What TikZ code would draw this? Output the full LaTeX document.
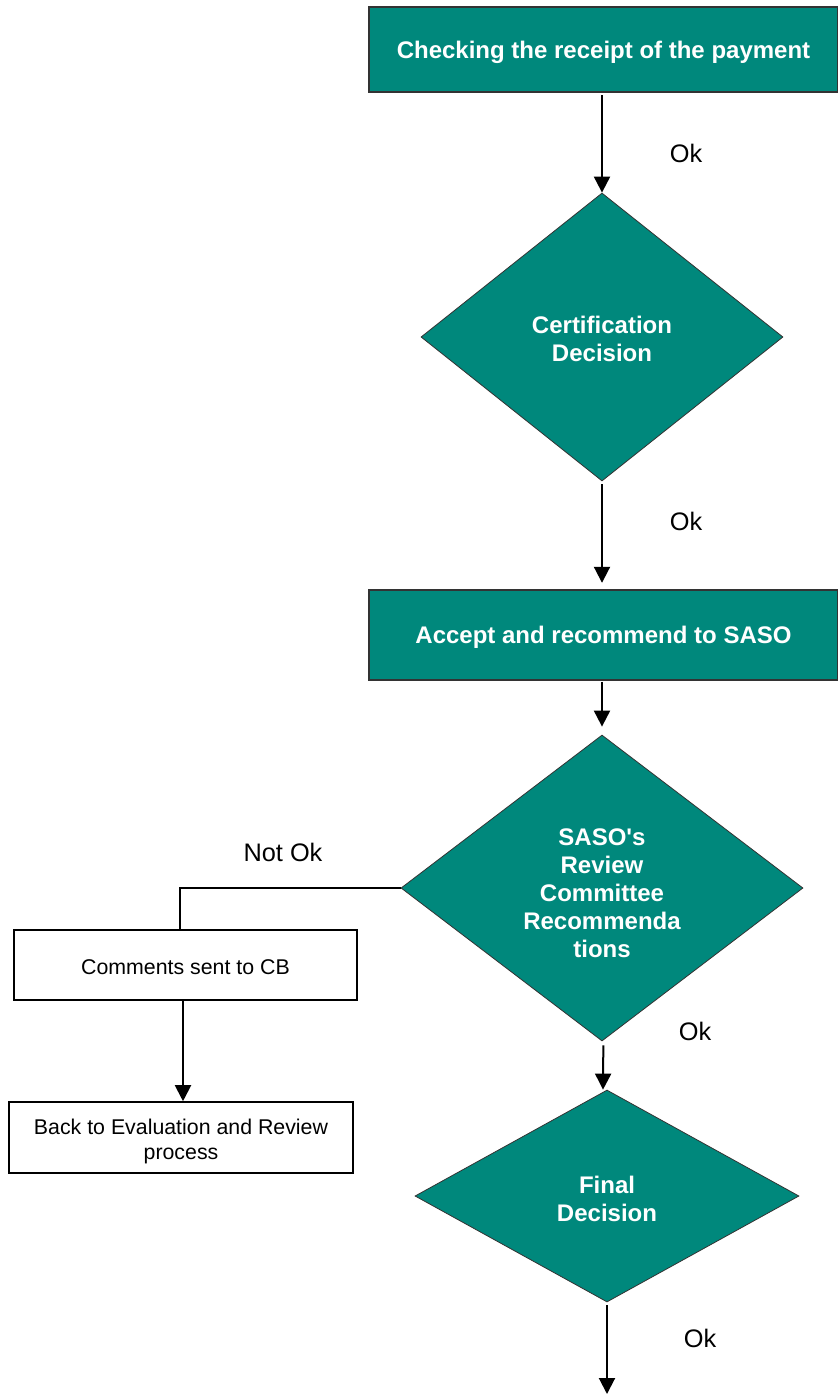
\documentclass[tikz,border=0pt]{standalone}
\usepackage{fontspec}
\setmainfont{Liberation Sans}[Ligatures=TeXOff]
\usetikzlibrary{arrows.meta,shapes.geometric}
\definecolor{teal}{RGB}{0,136,124}
\tikzset{
  greenbox/.style={draw=black!80, line width=0.8pt, fill=teal, text=white, inner sep=0pt, text depth=-1pt,
    font=\fontsize{18}{21}\selectfont\bfseries, align=center},
  choice/.style={diamond, draw=black!80, line width=0.6pt, fill=teal, inner sep=0pt},
  choicetext/.style={text=white, inner sep=0pt, font=\fontsize{18}{21}\selectfont\bfseries, align=center},
  whitebox/.style={draw, line width=1.2pt, fill=white, inner sep=0pt,
    font=\fontsize{16}{19}\selectfont, align=center},
  flow/.style={line width=1.5pt, -{Triangle[width=12pt,length=12pt]}},
  oklabel/.style={font=\fontsize{19}{22}\selectfont}
}
\begin{document}
\begin{tikzpicture}[x=0.75pt, y=-0.75pt]
		%%%%% START %%%%%
		\useasboundingbox (0, 0) rectangle (838, 1396);
		
		\node[greenbox, minimum width=351.75pt, minimum height=63.75pt] (check) at (603.5, 49.5) {Checking the receipt of the payment};
		\node[choice, minimum width=271.5pt, minimum height=216pt] (certdec) at (602, 337) {};
		\node[choicetext] (certdectext) at (602, 339) {Certification\\Decision};
		\node[greenbox, minimum width=351.75pt, minimum height=67.5pt] (accept) at (603.5, 635) {Accept and recommend to SASO};
		\node[choice, minimum width=301.5pt, minimum height=229.5pt] (review) at (602, 888) {};
		\node[choicetext] (reviewtext) at (602, 893) {SASO's\\Review\\Committee\\Recommenda\\tions};
		\node[choice, minimum width=288pt, minimum height=159pt] (finaldec) at (607, 1196) {};
		\node[choicetext] (finaldectext) at (607, 1199) {Final\\Decision};
		
		\node[whitebox, minimum width=257.25pt, minimum height=52.5pt] (comments) at (185.5, 965) {\rule{0pt}{15pt}Comments sent to CB};
		\node[whitebox, minimum width=258pt, minimum height=53.25pt] (back) at (181, 1137.5) {\rule{0pt}{18pt}Back to Evaluation and Review\\process};
		
		\coordinate (out) at (607, 1394);
		
		\draw[flow] ([yshift=-2pt]check.south -| certdec.north) -- (certdec.north);
		\draw[flow] ([yshift=-2pt]certdec.south) -- ([yshift=5pt]accept.north -| certdec.south);
		\draw[flow] ([yshift=-1pt]accept.south -| review.north) -- ([yshift=6pt]review.north);
		\draw[line width=1.5pt] (review.west) -| ([xshift=-4pt]comments.north);
		\draw[flow] (comments.south -| 183, 0) -- (back.north -| 183, 0);
		\draw[flow] ([shift={(1pt,-3pt)}]review.south) -- ([xshift=-3pt]finaldec.north);
		\draw[flow] ([yshift=-2pt]finaldec.south) -- (out);
		
		\node[oklabel] (ok1) at (686, 153) {Ok};
		\node[oklabel] (ok2) at (686, 521) {Ok};
		\node[oklabel] (ok3) at (695, 1031) {Ok};
		\node[oklabel] (ok4) at (700, 1338) {Ok};
		\node[oklabel] (notok) at (283, 852) {Not Ok};
		
		%%%%% END %%%%%
\end{tikzpicture}
\end{document}
